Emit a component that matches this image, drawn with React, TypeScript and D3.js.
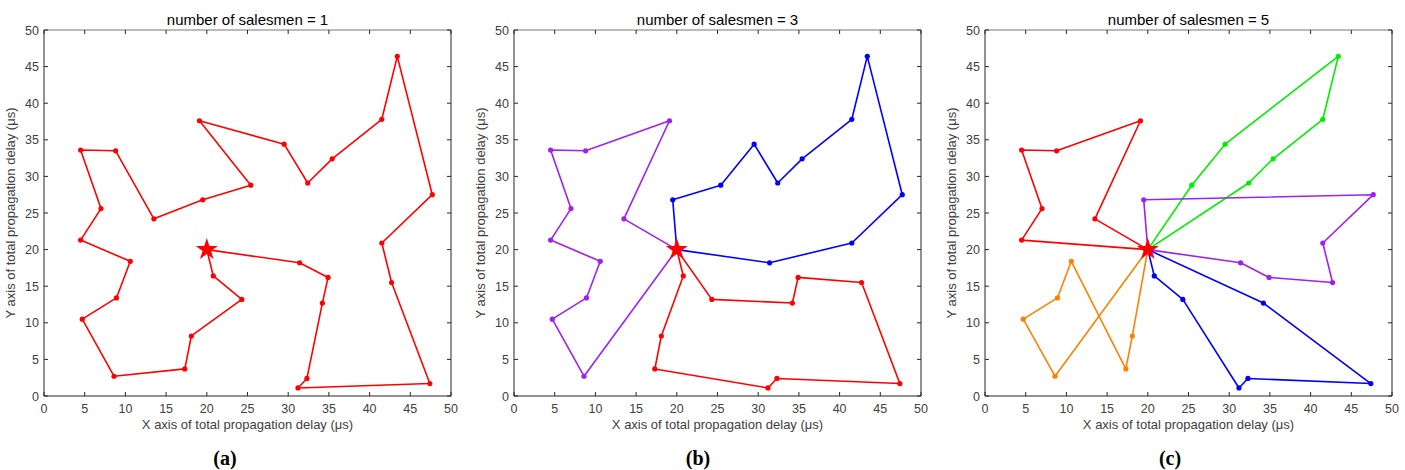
import * as d3 from "d3";

type Pt = [number, number];

const depot: Pt = [20, 20];

// tours, one list of cities per salesman (depot excluded)
const tour1: Pt[] = [
  [20.8, 16.4], [24.3, 13.2], [18.1, 8.2], [17.3, 3.7], [8.6, 2.7], [4.7, 10.5],
  [8.9, 13.4], [10.6, 18.4], [4.5, 21.3], [7.0, 25.6], [4.5, 33.6], [8.8, 33.5],
  [13.5, 24.2], [19.5, 26.8], [25.4, 28.8], [19.1, 37.6], [29.5, 34.4], [32.4, 29.1],
  [35.4, 32.4], [41.5, 37.8], [43.4, 46.4], [47.7, 27.5], [41.5, 20.9], [42.7, 15.5],
  [47.4, 1.7], [31.2, 1.1], [32.3, 2.4], [34.2, 12.7], [34.9, 16.2], [31.4, 18.2],
];

const tour3Purple: Pt[] = [
  [8.6, 2.7], [4.7, 10.5], [8.9, 13.4], [10.6, 18.4], [4.5, 21.3], [7.0, 25.6],
  [4.5, 33.6], [8.8, 33.5], [19.1, 37.6], [13.5, 24.2],
];
const tour3Blue: Pt[] = [
  [19.5, 26.8], [25.4, 28.8], [29.5, 34.4], [32.4, 29.1], [35.4, 32.4], [41.5, 37.8],
  [43.4, 46.4], [47.7, 27.5], [41.5, 20.9], [31.4, 18.2],
];
const tour3Red: Pt[] = [
  [20.8, 16.4], [18.1, 8.2], [17.3, 3.7], [31.2, 1.1], [32.3, 2.4], [47.4, 1.7],
  [42.7, 15.5], [34.9, 16.2], [34.2, 12.7], [24.3, 13.2],
];

const tour5Red: Pt[] = [[4.5, 21.3], [7.0, 25.6], [4.5, 33.6], [8.8, 33.5], [19.1, 37.6], [13.5, 24.2]];
const tour5Green: Pt[] = [[25.4, 28.8], [29.5, 34.4], [43.4, 46.4], [41.5, 37.8], [35.4, 32.4], [32.4, 29.1]];
const tour5Purple: Pt[] = [[19.5, 26.8], [47.7, 27.5], [41.5, 20.9], [42.7, 15.5], [34.9, 16.2], [31.4, 18.2]];
const tour5Blue: Pt[] = [[20.8, 16.4], [24.3, 13.2], [31.2, 1.1], [32.3, 2.4], [47.4, 1.7], [34.2, 12.7]];
const tour5Orange: Pt[] = [[18.1, 8.2], [17.3, 3.7], [10.6, 18.4], [8.9, 13.4], [4.7, 10.5], [8.6, 2.7]];

const ticks = [0, 5, 10, 15, 20, 25, 30, 35, 40, 45, 50];

const RED = "#ff0000";
const BLUE = "#0000ff";
const PURPLE = "#a020f0";
const GREEN = "#00ee00";
const ORANGE = "#ff8000";

const panels = [
  { left: 44, title: "number of salesmen = 1", caption: "a", capX: 225,
    routes: [{ pts: tour1, color: RED }] },
  { left: 514, title: "number of salesmen = 3", caption: "b", capX: 698,
    routes: [{ pts: tour3Purple, color: PURPLE }, { pts: tour3Blue, color: BLUE }, { pts: tour3Red, color: RED }] },
  { left: 985, title: "number of salesmen = 5", caption: "c", capX: 1170,
    routes: [
      { pts: tour5Red, color: RED }, { pts: tour5Green, color: GREEN }, { pts: tour5Purple, color: PURPLE },
      { pts: tour5Blue, color: BLUE }, { pts: tour5Orange, color: ORANGE },
    ] },
];

const W = 407;
const TOP = 30;
const H = 366;
const FONT = "'Liberation Sans', Arial, sans-serif";

function Panel({ p }: { p: (typeof panels)[number] }) {
  const x = d3.scaleLinear().domain([0, 50]).range([p.left, p.left + W]);
  const y = d3.scaleLinear().domain([0, 50]).range([TOP + H, TOP]);
  const line = d3.line<Pt>().x((d) => x(d[0])).y((d) => y(d[1]));
  const star = d3.symbol(d3.symbolStar, 150)()!;
  const axisCol = "#262626";
  return (
    <g>
      <text x={p.left + W / 2} y={TOP - 5} textAnchor="middle" fontSize={15} fill="#000" fontFamily={FONT}>
        {p.title}
      </text>
      {p.routes.map((r, i) => (
        <g key={i}>
          <path d={line([depot, ...r.pts, depot])!} fill="none" stroke={r.color} strokeWidth={1.6} strokeLinejoin="round" />
          {r.pts.map((d, j) => (
            <circle key={j} cx={x(d[0])} cy={y(d[1])} r={2.6} fill={r.color} />
          ))}
        </g>
      ))}
      <path d={star} transform={`translate(${x(depot[0])},${y(depot[1])})`} fill={RED} />
      {/* box */}
      <line x1={p.left} x2={p.left + W} y1={TOP} y2={TOP} stroke="#777" strokeWidth={1} />
      <line x1={p.left + W} x2={p.left + W} y1={TOP} y2={TOP + H} stroke={axisCol} strokeWidth={1} />
      <line x1={p.left} x2={p.left + W} y1={TOP + H} y2={TOP + H} stroke={axisCol} strokeWidth={1} />
      <line x1={p.left} x2={p.left} y1={TOP} y2={TOP + H} stroke={axisCol} strokeWidth={1} />
      {ticks.map((t) => (
        <g key={t}>
          <line x1={x(t)} x2={x(t)} y1={TOP + H} y2={TOP + H - 4} stroke={axisCol} />
          <line x1={x(t)} x2={x(t)} y1={TOP} y2={TOP + 4} stroke={axisCol} />
          <line x1={p.left} x2={p.left + 4} y1={y(t)} y2={y(t)} stroke={axisCol} />
          <line x1={p.left + W} x2={p.left + W - 4} y1={y(t)} y2={y(t)} stroke={axisCol} />
          <text x={x(t)} y={TOP + H + 17} textAnchor="middle" fontSize={12.5} fill="#404040" fontFamily={FONT}>
            {t}
          </text>
          <text x={p.left - 5} y={y(t) + 4.5} textAnchor="end" fontSize={12.5} fill="#404040" fontFamily={FONT}>
            {t}
          </text>
        </g>
      ))}
      <text x={p.left + W / 2} y={TOP + H + 33} textAnchor="middle" fontSize={13} fill="#404040" fontFamily={FONT}>
        X axis of total propagation delay (μs)
      </text>
      <text
        transform={`translate(${p.left - 29},${TOP + H / 2}) rotate(-90)`}
        textAnchor="middle"
        fontSize={13}
        fill="#404040"
        fontFamily={FONT}
      >
        Y axis of total propagation delay (μs)
      </text>
      <text x={p.capX} y={465} textAnchor="middle" fontSize={20} fontWeight="bold"
        fontFamily="'Liberation Serif', 'Times New Roman', serif" fill="#000">
        ({p.caption})
      </text>
    </g>
  );
}

export default function App() {
  return (
    <svg
      width={1405}
      height={470}
      style={{ position: "absolute", left: 0, top: 0, background: "#fff" }}
    >
      <rect width={1405} height={470} fill="#fff" />
      {panels.map((p) => (
        <Panel key={p.caption} p={p} />
      ))}
    </svg>
  );
}
